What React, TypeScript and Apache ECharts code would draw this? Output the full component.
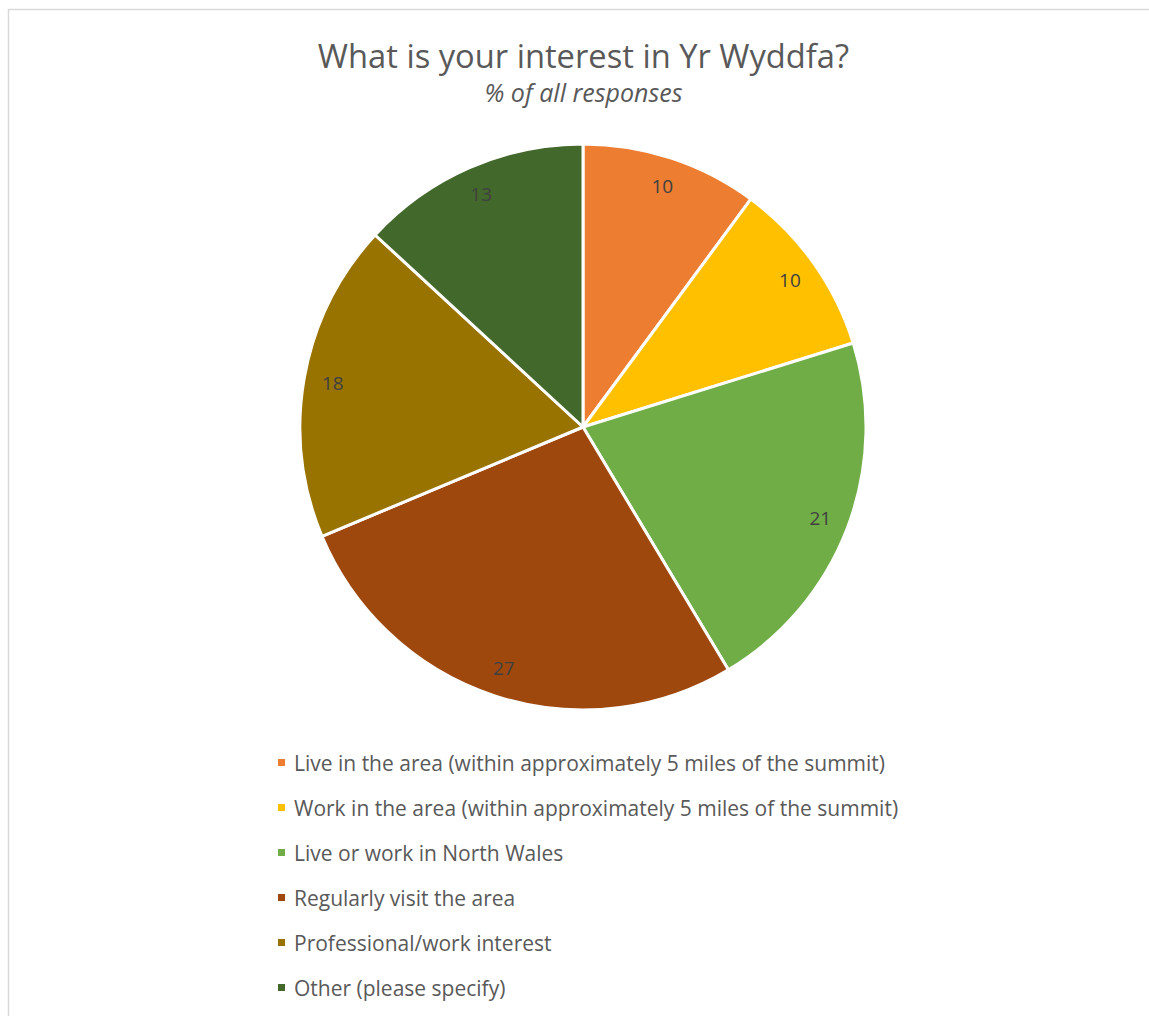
import React, { useEffect, useRef } from "react";
import * as echarts from "echarts";

const categories = [
  "Live in the area (within approximately 5 miles of the summit)",
  "Work in the area (within approximately 5 miles of the summit)",
  "Live or work in North Wales",
  "Regularly visit the area",
  "Professional/work interest",
  "Other (please specify)",
];
const values = [10, 10, 21, 27, 18, 13];
const colors = ["#ED7D31", "#FFC000", "#70AD47", "#9E480E", "#997300", "#43682B"];

const FONT = "Open Sans";

export default function App() {
  const ref = useRef<HTMLDivElement>(null);
  useEffect(() => {
    if (!ref.current) return;
    const chart = echarts.init(ref.current, undefined, { renderer: "svg" });
    const data = categories.map((name, i) => ({
      name,
      value: values[i],
      itemStyle: { color: colors[i] },
    }));
    chart.setOption({
      animation: false,
      backgroundColor: "#ffffff",
      graphic: [
        {
          type: "rect",
          shape: { x: 8.5, y: 9.5, width: 1160, height: 1040 },
          style: { fill: "none", stroke: "#D9D9D9", lineWidth: 1.5 },
          silent: true,
        },
        {
          type: "text",
          x: 583.5,
          y: 55,
          style: {
            text: "What is your interest in Yr Wyddfa?",
            fill: "#595959",
            font: `32.7px "${FONT}"`,
            textAlign: "center",
            textVerticalAlign: "middle",
          },
        },
        {
          type: "text",
          x: 583.5,
          y: 92,
          style: {
            text: "% of all responses",
            fill: "#595959",
            font: `italic 25px "${FONT}"`,
            textAlign: "center",
            textVerticalAlign: "middle",
          },
        },
      ],
      legend: {
        orient: "vertical",
        left: 271,
        top: 747,
        icon: "rect",
        itemWidth: 9,
        itemHeight: 9,
        itemGap: 24,
        data: categories,
        selectedMode: false,
        textStyle: {
          fontFamily: FONT,
          fontSize: 21,
          color: "#595959",
          lineHeight: 21,
          height: 21,
          padding: [0, 0, 0, 3],
        },
      },
      series: [
        {
          type: "pie",
          center: [583, 427],
          radius: [0, 283],
          startAngle: 90,
          clockwise: true,
          silent: true,
          data,
          itemStyle: { borderColor: "#ffffff", borderWidth: 3 },
          label: { show: false },
          labelLine: { show: false },
        },
        {
          type: "pie",
          center: [583, 427],
          radius: [219, 283],
          startAngle: 90,
          clockwise: true,
          silent: true,
          data: categories.map((name, i) => ({ name, value: values[i] })),
          itemStyle: { color: "rgba(0,0,0,0)", borderWidth: 0 },
          label: {
            show: true,
            position: "inside",
            formatter: "{c}",
            fontFamily: FONT,
            fontSize: 19,
            color: "#404040",
          },
          labelLine: { show: false },
        },
      ],
    });
    return () => chart.dispose();
  }, []);
  return (
    <div
      ref={ref}
      style={{ position: "fixed", left: 0, top: 0, width: 1149, height: 1016 }}
    />
  );
}
